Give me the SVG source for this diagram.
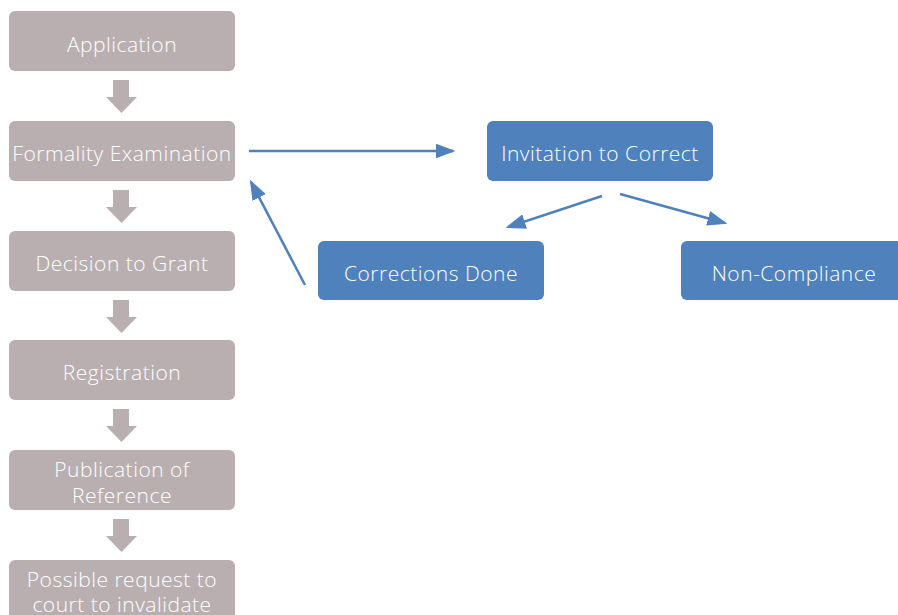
<svg xmlns="http://www.w3.org/2000/svg" width="898" height="615" viewBox="0 0 898 615">
<defs>
<style>
.g{fill:#b9afb1}
.b{fill:#4f81bd}
.t{font-family:"Open Sans","Lato",sans-serif;font-weight:300;font-size:21px;letter-spacing:0.5px;fill:#ffffff;text-anchor:middle}
.c{stroke:#4f81bd;stroke-width:2.5;fill:none}
.ba{fill:#b9afb1}
</style>
<marker id="ah" markerWidth="8" markerHeight="6" refX="7" refY="3" orient="auto" markerUnits="strokeWidth">
<path d="M0,0 L8,3 L0,6 Z" fill="#4f81bd"/>
</marker>
</defs>
<rect width="898" height="615" fill="#ffffff"/>
<g id="n1"><rect class="g" x="9" y="11" width="226" height="60" rx="6"/><text class="t" x="122" y="52">Application</text></g>
<g id="n2"><rect class="g" x="9" y="121" width="226" height="60" rx="6"/><text class="t" x="122" y="161">Formality Examination</text></g>
<g id="n3"><rect class="g" x="9" y="231" width="226" height="60" rx="6"/><text class="t" x="122" y="271">Decision to Grant</text></g>
<g id="n4"><rect class="g" x="9" y="340" width="226" height="60" rx="6"/><text class="t" x="122" y="380">Registration</text></g>
<g id="n5"><rect class="g" x="9" y="450" width="226" height="60" rx="6"/><text class="t" x="122" y="477">Publication of</text><text class="t" x="122" y="503">Reference</text></g>
<g id="n6"><rect class="g" x="9" y="560" width="226" height="70" rx="6"/><text class="t" x="122" y="587">Possible request to</text><text class="t" x="122" y="612">court to invalidate</text></g>
<g id="n7"><rect class="b" x="487" y="121" width="226" height="60" rx="6"/><text class="t" x="600" y="161">Invitation to Correct</text></g>
<g id="n8"><rect class="b" x="318" y="241" width="226" height="59" rx="6"/><text class="t" x="431" y="281">Corrections Done</text></g>
<g id="n9"><rect class="b" x="681" y="241" width="230" height="59" rx="6"/><text class="t" x="794" y="281">Non-Compliance</text></g>
<g id="connectors">
<path class="ba" d="M113,80 H129 V97 H137 L121.5,113 L106,97 H113 Z"/>
<path class="ba" d="M113,190 H129 V207 H137 L121.5,223 L106,207 H113 Z"/>
<path class="ba" d="M113,300 H129 V317 H137 L121.5,333 L106,317 H113 Z"/>
<path class="ba" d="M113,409 H129 V426 H137 L121.5,442 L106,426 H113 Z"/>
<path class="ba" d="M113,519 H129 V536 H137 L121.5,552 L106,536 H113 Z"/>
<line class="c" x1="249" y1="151" x2="453" y2="151" marker-end="url(#ah)"/>
<line class="c" x1="305" y1="285" x2="251" y2="182" marker-end="url(#ah)"/>
<line class="c" x1="602" y1="196" x2="508" y2="227" marker-end="url(#ah)"/>
<line class="c" x1="620" y1="194" x2="725" y2="223" marker-end="url(#ah)"/>
</g>
</svg>
